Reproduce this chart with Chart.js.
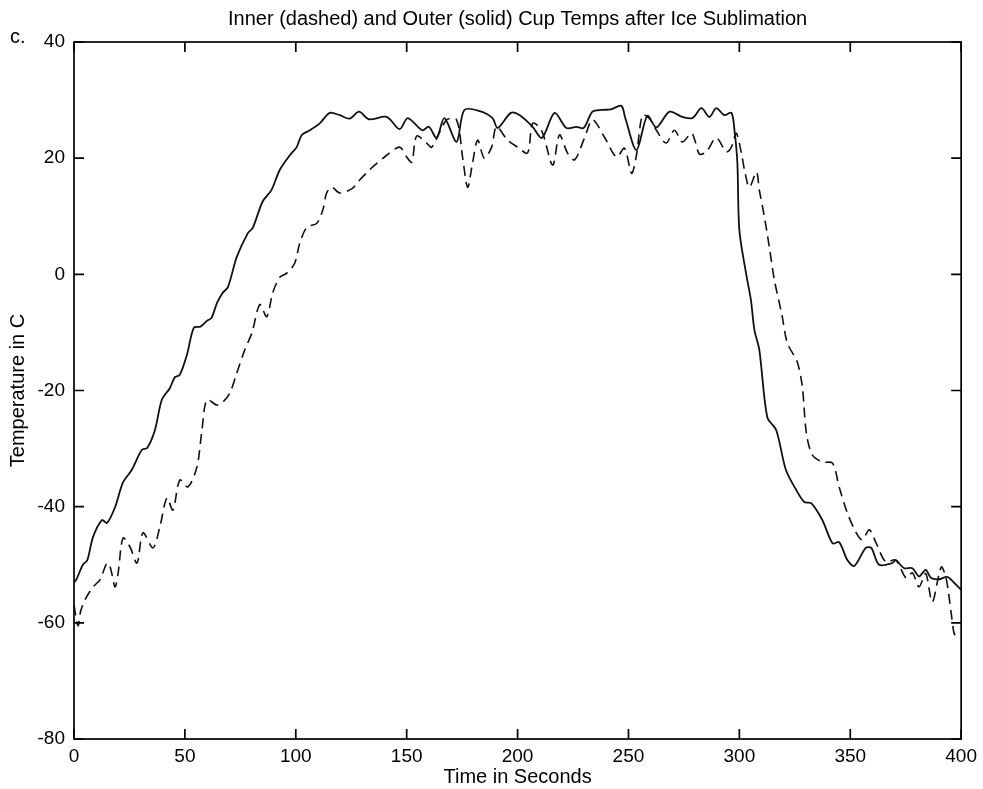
<!DOCTYPE html>
<html>
<head>
<meta charset="utf-8">
<script src="https://cdn.jsdelivr.net/npm/chart.js@4.4.1/dist/chart.umd.min.js"></script>
<style>
html,body{margin:0;padding:0;background:#fff;}
#wrap{width:983px;height:789px;position:relative;}
</style>
</head>
<body>
<div id="wrap"><canvas id="c" width="983" height="789"></canvas></div>
<script>
// ---- data ----
const outerTime = [0,1,4,6,8.6,12.6,14.9,18.5,22,26,30.6,33,36.5,39.6,43.2,45.5,47.7,50.9,54,57,60,62,64.5,67,69.4,73.4,78.4,80.6,85,89,92.8,97.3,100.4,102.7,106.3,110.8,115.3,119.8,124.3,128.5,133,141,146.8,150.5,157,160,163.5,167,172.5,176,183,188.7,191,197,201,206.8,211,216.7,222,226.6,229.8,233.8,238.3,242,246.8,248.5,253.6,258.5,262.6,268.5,274.3,278.8,282.9,286.5,289.6,293.2,296.4,297.8,299.1,300,303,305.2,306.8,309,312.6,316.6,321,325.6,329.3,332.4,337.4,342,345,348.7,351.8,357,359.5,363,369,370.5,374.3,378,381,384,386.5,390,393.7,396.8,400];
const outerTemp = [-53,-52.6,-50,-49.2,-45.2,-42.3,-42.8,-40.1,-35.9,-33.7,-30.2,-29.9,-26.8,-21.6,-19.6,-17.7,-17.3,-13.9,-9.2,-9.0,-8.0,-7.5,-4.9,-3.2,-2.2,3,7.1,8,12.5,14.5,18,20.5,21.9,24,24.8,26,27.8,27.4,26.8,28,26.7,27.1,25,26.9,24.8,25.4,23.5,26.9,22.8,28.3,28.1,26.9,25.2,27.8,27.4,25.4,23.5,27.8,25.2,25.4,25.2,28,28.3,28.4,29,27,21.4,27.3,25.3,28,27.1,26.9,28.6,27.1,28.6,27.4,27.8,24.8,19.2,7.6,0.2,-4.4,-9.6,-13,-24.6,-26.8,-33.7,-37.1,-39.2,-39.4,-42.3,-46.3,-46.1,-49.2,-50.2,-47.1,-47.1,-50,-49.7,-49.2,-50.6,-50.6,-52,-50.9,-52.3,-52.5,-52.1,-53.1,-54.3];

const innerTime = [0,1.8,3,5,8.6,11.7,14.9,16.4,18.5,19.9,22.1,25.2,28.4,31.1,35.6,38.7,41.9,44.6,47.7,51.4,55.4,57.7,59.9,64.4,67.1,70.3,73.4,77,80.2,83.8,86.9,89.6,92.8,95.9,99.5,101.8,105,109.5,112.2,113.9,116.2,119.8,125.5,128,133.3,141,146.8,150,152.3,154.5,159,161.3,168,172.5,175.2,177.5,179.7,182,185,188.3,190.5,195.5,200,204.5,206.8,210.8,215.8,218.9,222.5,225.7,230.2,233.8,239.2,244.6,248.2,251.4,253.6,256.3,259.5,262.6,267,270.7,274.3,278.4,280,282,285.1,289.6,294.1,296.4,298.6,300.9,302.3,304.5,307.7,309,311.3,313.5,315.8,319.2,321.6,326.1,328.4,330.2,332.9,337.4,342,345,348.7,352.7,355.4,358.6,361.7,366,370.5,375.2,378,381,384,387,391,393.2,395.5,396.8,398];
const innerTemp = [-57,-60.5,-58,-56,-53.8,-52.6,-49.7,-50.5,-53.8,-51.4,-45.4,-46.9,-49.7,-44.5,-47.1,-43.5,-38.5,-40.6,-35.4,-36.6,-33.2,-26.8,-21.6,-22.5,-22,-20.4,-17,-13,-10.1,-5.2,-7.3,-3.2,-0.5,0.2,1.9,5.4,8.1,8.8,11.1,14,15,14,14.8,15.9,18,20.5,21.9,20.2,19.3,23.8,22.6,21.9,26.6,26.6,20.2,15,19.2,23.1,20,21.9,25.4,23.1,21.9,20.9,26,24.8,18.8,24,20.9,19.7,23.5,26.6,23.6,20.2,21.7,17.4,20.5,27.4,26.8,24.8,22.6,24.8,22.8,24.3,23,20.7,21.1,23.5,21.1,21.9,24.3,20.9,18,15,17.6,14.5,9.9,4.7,-1,-7,-11.8,-15.1,-19.4,-27.3,-31.1,-32.3,-32.5,-36.6,-41.1,-44.5,-45.7,-44,-46.3,-49.5,-49.2,-52.3,-51.4,-53.8,-51.5,-56.4,-50.4,-52.3,-58.3,-61.8,-62.5];

const xTickValues = [0,50,100,150,200,250,300,350,400];
const yTickValues = [-80,-60,-40,-20,0,20,40];

const chartTitle = "Inner (dashed) and Outer (solid) Cup Temps after Ice Sublimation";
const xTitle = "Time in Seconds";
const yTitle = "Temperature in C";
const panelLabel = "c.";

// ---- drawing ----
const FONT_FAMILY = '"Liberation Sans", Arial, Helvetica, sans-serif';
const FONT_SIZE = 19;
const TITLE_SIZE = 20;

function pairs(xs, ys){ return xs.map((x,i)=>({x:x, y:ys[i]})); }

const framePlugin = {
  id: 'frame',
  afterDatasetsDraw(chart) {
    const {ctx, chartArea: a, scales} = chart;
    const x = scales.x, y = scales.y;
    ctx.save();
    ctx.strokeStyle = '#000';
    ctx.lineWidth = 1.7;
    ctx.strokeRect(a.left, a.top, a.right - a.left, a.bottom - a.top);
    const L = 10;
    ctx.beginPath();
    xTickValues.forEach(v => {
      const px = x.getPixelForValue(v);
      ctx.moveTo(px, a.bottom); ctx.lineTo(px, a.bottom - L);
      ctx.moveTo(px, a.top); ctx.lineTo(px, a.top + L);
    });
    yTickValues.forEach(v => {
      const py = y.getPixelForValue(v);
      ctx.moveTo(a.left, py); ctx.lineTo(a.left + L, py);
      ctx.moveTo(a.right, py); ctx.lineTo(a.right - L, py);
    });
    ctx.stroke();
    ctx.font = TITLE_SIZE + 'px ' + FONT_FAMILY;
    ctx.fillStyle = '#000';
    ctx.textBaseline = 'middle';
    ctx.textAlign = 'left';
    ctx.fillText(panelLabel, 10, 37);
    ctx.restore();
  }
};

const font = {family: FONT_FAMILY, size: FONT_SIZE};
const titleFont = {family: FONT_FAMILY, size: TITLE_SIZE, weight: 'normal'};

new Chart(document.getElementById('c'), {
  type: 'line',
  data: {
    datasets: [
      {
        label: 'Outer (solid)',
        data: pairs(outerTime, outerTemp),
        borderColor: '#111',
        borderWidth: 1.8,
        pointRadius: 0,
        fill: false,
        tension: 0.3
      },
      {
        label: 'Inner (dashed)',
        data: pairs(innerTime, innerTemp),
        borderColor: '#111',
        borderWidth: 1.6,
        borderDash: [10, 6],
        pointRadius: 0,
        fill: false,
        tension: 0.3
      }
    ]
  },
  options: {
    responsive: false,
    animation: false,
    devicePixelRatio: 1,
    layout: {padding: {top: 0, right: 20, bottom: 0, left: 0}},
    plugins: {
      legend: {display: false},
      tooltip: {enabled: false},
      title: {
        display: true,
        text: chartTitle,
        fullSize: false,
        color: '#000',
        font: titleFont,
        padding: {top: 7, bottom: 11}
      }
    },
    scales: {
      x: {
        type: 'linear',
        position: 'bottom',
        min: 0, max: 400,
        grid: {display: false, drawTicks: false},
        border: {display: false},
        ticks: {padding: 6, color: '#000', font: font, maxRotation: 0, autoSkip: false},
        afterBuildTicks: s => { s.ticks = xTickValues.map(v => ({value: v})); },
        afterFit: s => { s.height = 50; },
        title: {display: true, text: xTitle, color: '#000', font: titleFont, padding: {top: 0, bottom: 0}}
      },
      y: {
        type: 'linear',
        position: 'left',
        min: -80, max: 40,
        grid: {display: false, drawTicks: false},
        border: {display: false},
        ticks: {padding: 9, color: '#000', font: font},
        afterBuildTicks: s => { s.ticks = yTickValues.map(v => ({value: v})); },
        afterFit: s => { s.width = 74; },
        title: {display: true, text: yTitle, color: '#000', font: titleFont, padding: {top: 6, bottom: 0}}
      }
    }
  },
  plugins: [framePlugin]
});
</script>
</body>
</html>
